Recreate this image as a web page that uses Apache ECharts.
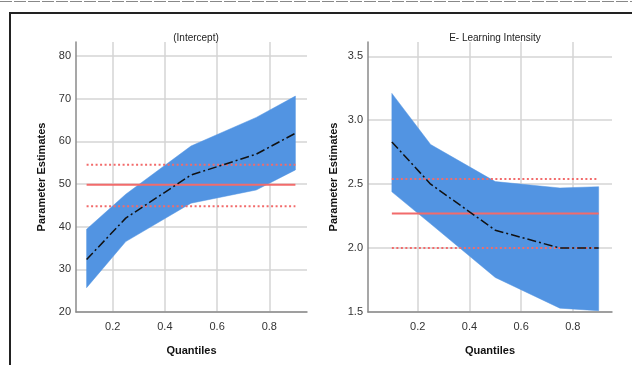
<!DOCTYPE html>
<html>
<head>
<meta charset="utf-8">
<script src="https://cdn.jsdelivr.net/npm/echarts@6/dist/echarts.min.js"></script>
<style>
  html, body { margin: 0; padding: 0; background: #fff; }
  #chart { width: 632px; height: 365px; }
</style>
</head>
<body>
<div id="chart"></div>
<script>
// quantiles on the x axis
const quantiles = [0.1, 0.25, 0.5, 0.75, 0.9];
const xTicks = [0.2, 0.4, 0.6, 0.8];

// (Intercept) panel
const interceptEst = [32.3, 42.0, 52.1, 57.0, 61.9];
const interceptLow = [25.7, 36.5, 45.5, 48.6, 53.3];
const interceptHigh = [39.4, 47.6, 58.9, 65.6, 70.6];
const interceptOls = [49.8, 44.8, 54.5]; // estimate, lower, upper
const interceptTicks = [20, 30, 40, 50, 60, 70, 80];

// E- Learning Intensity panel
const eliEst = [2.83, 2.50, 2.14, 2.00, 2.00];
const eliLow = [2.44, 2.19, 1.77, 1.53, 1.51];
const eliHigh = [3.21, 2.81, 2.52, 2.47, 2.48];
const eliOls = [2.27, 2.00, 2.54];
const eliTicks = [1.5, 2.0, 2.5, 3.0, 3.5];

const FONT = "'Liberation Sans Narrow', 'Liberation Sans', Arial, sans-serif";
const BAND = '#5294e2';
const RED = '#f26b6b';

function pairs(ys) {
    return quantiles.map((q, i) => [q, ys[i]]);
}
function flat(v) {
    return [[quantiles[0], v], [quantiles[quantiles.length - 1], v]];
}

function xAxisFor(idx, min, max) {
    return {
        type: 'value',
        gridIndex: idx,
        min: min,
        max: max,
        name: 'Quantiles',
        nameLocation: 'middle',
        nameGap: 33,
        nameTextStyle: { fontFamily: FONT, fontWeight: 'bold', fontSize: 11, color: '#111' },
        axisLine: { lineStyle: { color: '#8a8a8a', width: 1.5 } },
        axisTick: { show: false, customValues: xTicks },
        axisLabel: {
            customValues: xTicks,
            formatter: v => v.toFixed(1),
            fontFamily: FONT, fontSize: 11, color: '#333', margin: 9
        },
        splitLine: { show: true, lineStyle: { color: '#d4d4d4', width: 1.5 } }
    };
}

function yAxisFor(idx, min, max, ticks, digits) {
    return {
        type: 'value',
        gridIndex: idx,
        min: min,
        max: max,
        name: 'Parameter Estimates',
        nameLocation: 'middle',
        nameGap: 29,
        nameTextStyle: { fontFamily: FONT, fontWeight: 'bold', fontSize: 11, color: '#111' },
        axisLine: { show: true, lineStyle: { color: '#8a8a8a', width: 1.5 } },
        axisTick: { show: false, customValues: ticks },
        axisLabel: {
            customValues: ticks,
            formatter: v => v.toFixed(digits),
            fontFamily: FONT, fontSize: 11, color: '#333', margin: 5
        },
        splitLine: { show: true, lineStyle: { color: '#d4d4d4', width: 1.5 } }
    };
}

// confidence band as one polygon, every vertex goes through api.coord
function bandSeries(idx, low, high) {
    return {
        type: 'custom', xAxisIndex: idx, yAxisIndex: idx, silent: true, z: 1,
        data: quantiles.map((q, i) => [q, low[i], high[i]]),
        encode: { x: 0, y: [1, 2] },
        renderItem: function(params, api) {
            if (params.dataIndex !== 0) {
                return null;
            }
            const pts = [];
            for (let i = 0; i < quantiles.length; i++) {
                pts.push(api.coord([quantiles[i], high[i]]));
            }
            for (let i = quantiles.length - 1; i >= 0; i--) {
                pts.push(api.coord([quantiles[i], low[i]]));
            }
            return {
                type: 'polygon',
                shape: { points: pts },
                style: { fill: BAND, stroke: BAND, lineWidth: 0.5 }
            };
        }
    };
}

function panelSeries(idx, est, low, high, ols) {
    return [
        bandSeries(idx, low, high),
        {
            type: 'line', xAxisIndex: idx, yAxisIndex: idx, symbol: 'none',
            lineStyle: { color: RED, width: 2 },
            data: flat(ols[0]), z: 3
        },
        {
            type: 'line', xAxisIndex: idx, yAxisIndex: idx, symbol: 'none',
            lineStyle: { color: RED, width: 2, type: [2, 2.5] },
            data: flat(ols[1]), z: 3
        },
        {
            type: 'line', xAxisIndex: idx, yAxisIndex: idx, symbol: 'none',
            lineStyle: { color: RED, width: 2, type: [2, 2.5] },
            data: flat(ols[2]), z: 3
        },
        {
            type: 'line', xAxisIndex: idx, yAxisIndex: idx, symbol: 'none',
            lineStyle: { color: '#111', width: 1.5, type: [9, 3, 2, 3] },
            data: pairs(est), z: 4
        }
    ];
}

const myChart = echarts.init(document.getElementById('chart'), null, { renderer: 'canvas' });

const option = {
    animation: false,
    backgroundColor: '#fff',
    title: [
        { text: '(Intercept)', left: 191, top: 28, textAlign: 'center',
          textStyle: { fontFamily: FONT, fontSize: 10, fontWeight: 'normal', color: '#222' } },
        { text: 'E- Learning Intensity', left: 490, top: 28, textAlign: 'center',
          textStyle: { fontFamily: FONT, fontSize: 10, fontWeight: 'normal', color: '#222' } }
    ],
    grid: [
        { left: 76, top: 42, width: 231, height: 270 },
        { left: 368, top: 42, width: 244, height: 270 }
    ],
    xAxis: [
        xAxisFor(0, 0.0594, 0.9444),
        xAxisFor(1, 0.0077, 0.9516)
    ],
    yAxis: [
        yAxisFor(0, 20, 83.28, interceptTicks, 0),
        yAxisFor(1, 1.5, 3.612, eliTicks, 1)
    ],
    graphic: [
        // outer frame
        { type: 'rect', shape: { x: 10, y: 13, width: 640, height: 380 },
          style: { fill: 'none', stroke: '#222', lineWidth: 2 }, silent: true },
        // dashed rule at the very top
        { type: 'line', shape: { x1: 0, y1: 1.5, x2: 632, y2: 1.5 },
          style: { stroke: '#888', lineWidth: 1, lineDash: [12, 2] }, silent: true }
    ],
    series: [].concat(
        panelSeries(0, interceptEst, interceptLow, interceptHigh, interceptOls),
        panelSeries(1, eliEst, eliLow, eliHigh, eliOls)
    )
};

myChart.setOption(option);
</script>
</body>
</html>
